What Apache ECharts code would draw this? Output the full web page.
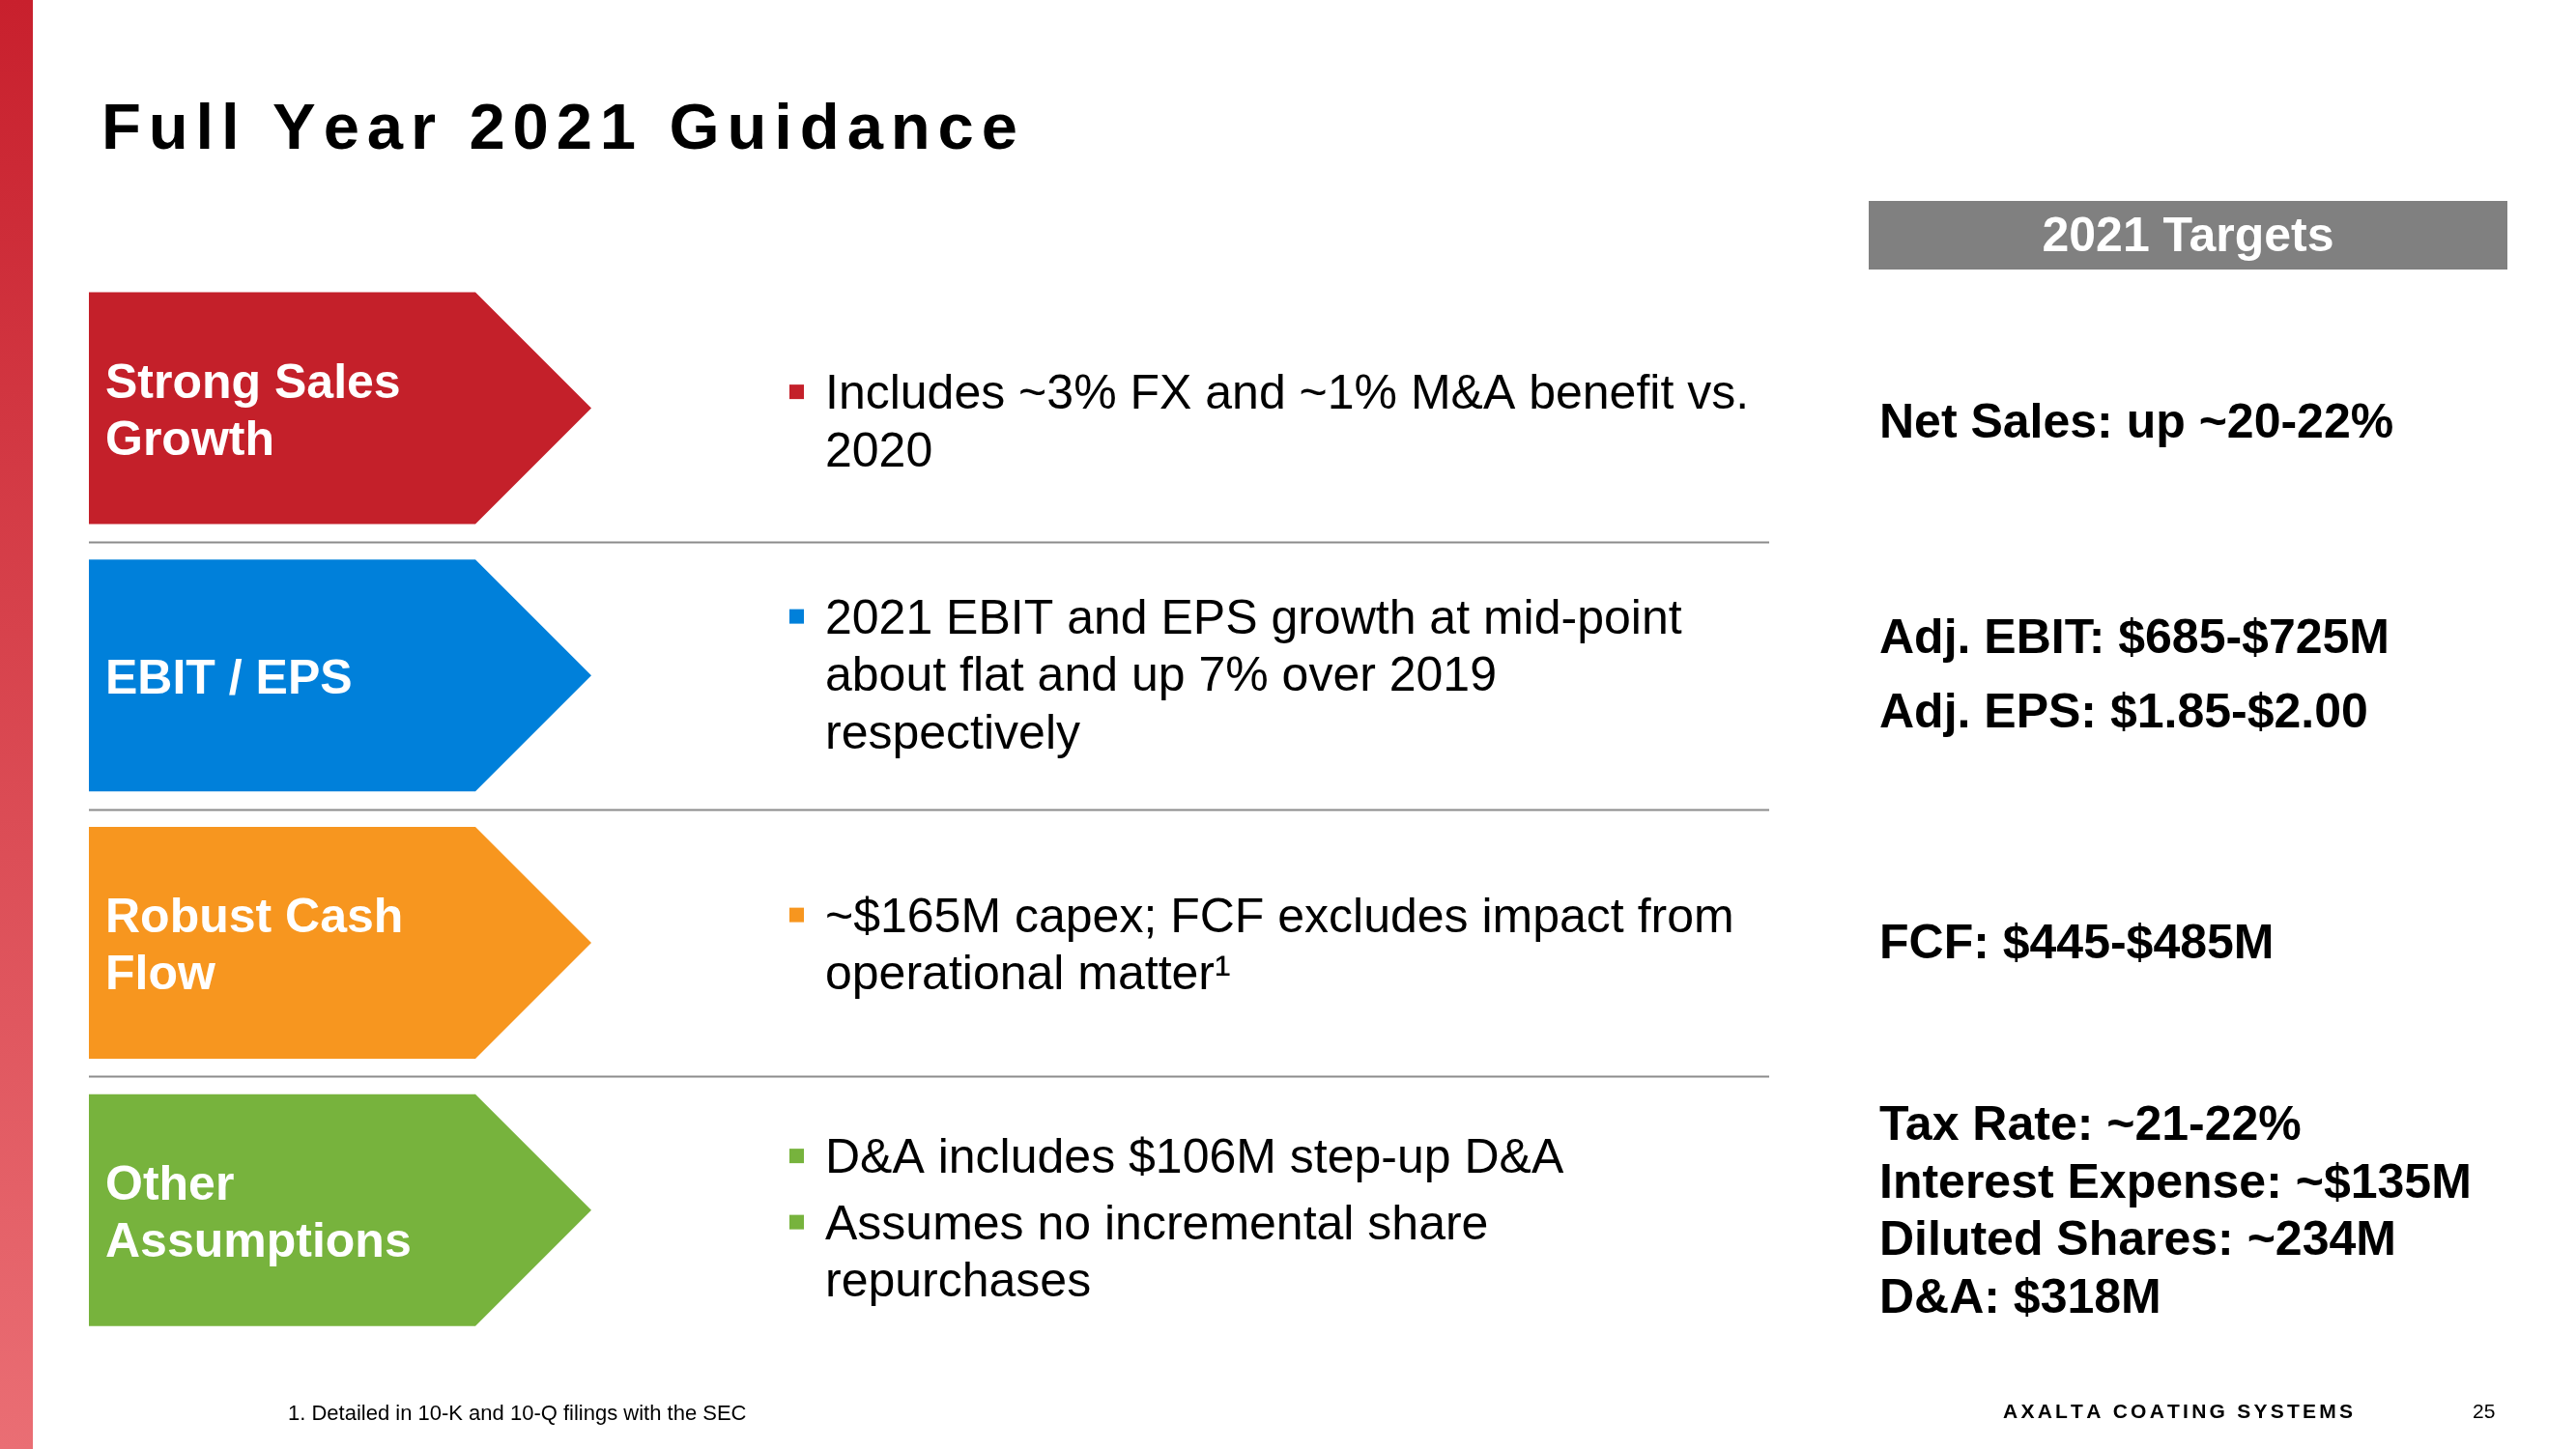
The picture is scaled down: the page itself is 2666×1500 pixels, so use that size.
<!DOCTYPE html>
<html>
<head>
<meta charset="utf-8">
<script src="https://cdn.jsdelivr.net/npm/echarts@6/dist/echarts.min.js"></script>
<style>
html,body{margin:0;padding:0;background:#fff;}
#chart{width:2666px;height:1500px;}
</style>
</head>
<body>
<div id="chart"></div>
<script>
// ---------- content ----------
const titleText = 'Full Year 2021 Guidance';
const categories = ['Strong Sales\nGrowth', 'EBIT / EPS', 'Robust Cash\nFlow', 'Other\nAssumptions'];
const categoryColors = ['#C4202A', '#0080DA', '#F7961F', '#77B33D'];
const bullets = [
  ['Includes ~3% FX and ~1% M&A benefit vs.\n2020'],
  ['2021 EBIT and EPS growth at mid-point\nabout flat and up 7% over 2019\nrespectively'],
  ['~$165M capex; FCF excludes impact from\noperational matter\u00B9'],
  ['D&A includes $106M step-up D&A', 'Assumes no incremental share\nrepurchases']
];
const targetsHeader = '2021 Targets';
const targets = [
  ['Net Sales: up ~20-22%'],
  ['Adj. EBIT: $685-$725M', 'Adj. EPS: $1.85-$2.00'],
  ['FCF: $445-$485M'],
  ['Tax Rate: ~21-22%\nInterest Expense: ~$135M\nDiluted Shares: ~234M\nD&A: $318M']
];
const footnote = '1. Detailed in 10-K and 10-Q filings with the SEC';
const brand = 'AXALTA COATING SYSTEMS';
const pageNumber = '25';

// ---------- layout / style ----------
const W = 2666, H = 1500;
const FONT = '"Liberation Sans", Arial, Helvetica, sans-serif';
const L = {
  gridTop: 284, gridHeight: 1107,
  arrowLeft: 92, arrowShoulder: 492, arrowTip: 612, arrowH: 240,
  labelX: 109, labelSize: 50, labelLH: 59, labelDy: 5,
  sepLeft: 92, sepRight: 1831,
  bulletX: 817, bulletSize: 15, bulletTextX: 854, textSize: 50, textLH: 59.5, textDy: 4,
  bulletGap: 9, bulletShift: [13, -1.5, 1, 8],
  targetX: 1945, targetGap: 17.5, targetShift: [13, -2, -2, -1],
  headerX: 1934, headerY: 208, headerW: 661, headerH: 71
};

function spacedChars(str, font, x0, yMid, targetWidth, color) {
  const ctx = document.createElement('canvas').getContext('2d');
  ctx.font = font;
  const chars = Array.from(str);
  const widths = chars.map(c => ctx.measureText(c).width);
  const natural = widths.reduce((a, b) => a + b, 0);
  const sp = (targetWidth - natural) / (chars.length - 1);
  let x = x0;
  const els = [];
  chars.forEach((c, k) => {
    if (c !== ' ') {
      els.push({ type: 'text', x: x, y: yMid, style: { text: c, font: font, fill: color, textVerticalAlign: 'middle', textAlign: 'left' } });
    }
    x += widths[k] + sp;
  });
  return els;
}

function paragraphLines(paras, gap, lh) {
  const items = [];
  let y = 0;
  paras.forEach((p, pi) => {
    if (pi > 0) y += gap;
    p.split('\n').forEach((t, li) => {
      items.push({ text: t, y: y, first: li === 0 });
      y += lh;
    });
  });
  const total = y - lh;
  items.forEach(it => it.y -= total / 2);
  return items;
}

const chart = echarts.init(document.getElementById('chart'), null, { renderer: 'canvas', width: W, height: H });

const graphics = [];
graphics.push({
  type: 'rect', shape: { x: 0, y: 0, width: 34, height: H },
  style: { fill: new echarts.graphic.LinearGradient(0, 0, 0, 1, [
    { offset: 0, color: '#C8202D' }, { offset: 1, color: '#EA6E74' }]) }
});
spacedChars(titleText, 'bold 67px ' + FONT, 105, 135.5, 948, '#000').forEach(e => graphics.push(e));
graphics.push({ type: 'rect', shape: { x: L.headerX, y: L.headerY, width: L.headerW, height: L.headerH }, style: { fill: '#808080' } });
graphics.push({ type: 'text', x: L.headerX + L.headerW / 2, y: L.headerY + L.headerH / 2 + 3,
  style: { text: targetsHeader, font: 'bold 50px ' + FONT, fill: '#fff', textAlign: 'center', textVerticalAlign: 'middle' } });
graphics.push({ type: 'text', x: 298, y: 1464, style: { text: footnote, font: '22px ' + FONT, fill: '#000', textVerticalAlign: 'middle' } });
spacedChars(brand, 'bold 21px ' + FONT, 2073, 1462.5, 362, '#000').forEach(e => graphics.push(e));
graphics.push({ type: 'text', x: 2559, y: 1462.5, style: { text: pageNumber, font: '21px ' + FONT, fill: '#000', textVerticalAlign: 'middle' } });

function renderRow(params, api) {
  const i = api.value(1);
  const cy = api.coord([0, i])[1];
  const band = api.size([0, 1])[1];
  const X = v => api.coord([v, i])[0];
  const hh = L.arrowH / 2;
  const col = categoryColors[i];
  const children = [];
  children.push({
    type: 'polygon',
    shape: { points: [[X(L.arrowLeft), cy - hh], [X(L.arrowShoulder), cy - hh], [X(L.arrowTip), cy], [X(L.arrowShoulder), cy + hh], [X(L.arrowLeft), cy + hh]] },
    style: { fill: col }
  });
  children.push({
    type: 'text', x: X(L.labelX), y: cy + L.labelDy,
    style: { text: categories[i], font: 'bold ' + L.labelSize + 'px ' + FONT, fill: '#fff', lineHeight: L.labelLH, textVerticalAlign: 'middle', textAlign: 'left' }
  });
  paragraphLines(bullets[i], L.bulletGap, L.textLH).forEach(it => {
    const y = cy + L.bulletShift[i] + it.y;
    if (it.first) {
      children.push({ type: 'rect', shape: { x: X(L.bulletX), y: y - L.bulletSize / 2, width: L.bulletSize, height: L.bulletSize }, style: { fill: col } });
    }
    children.push({ type: 'text', x: X(L.bulletTextX), y: y + L.textDy,
      style: { text: it.text, font: L.textSize + 'px ' + FONT, fill: '#000', textVerticalAlign: 'middle' } });
  });
  paragraphLines(targets[i], L.targetGap, L.textLH).forEach(it => {
    children.push({ type: 'text', x: X(L.targetX), y: cy + L.targetShift[i] + it.y + L.textDy,
      style: { text: it.text, font: 'bold ' + L.textSize + 'px ' + FONT, fill: '#000', textVerticalAlign: 'middle' } });
  });
  if (i < categories.length - 1) {
    const sy = Math.round(cy + band / 2) + 0.5;
    children.push({ type: 'line', shape: { x1: X(L.sepLeft), y1: sy, x2: X(L.sepRight), y2: sy }, style: { stroke: '#8C8C8C', lineWidth: 2 } });
  }
  return { type: 'group', children: children };
}

chart.setOption({
  animation: false,
  backgroundColor: '#ffffff',
  grid: { left: 0, right: 0, top: L.gridTop, height: L.gridHeight },
  xAxis: { type: 'value', min: 0, max: W, show: false },
  yAxis: { type: 'category', data: categories, inverse: true, show: false },
  graphic: graphics,
  series: [{
    type: 'custom',
    clip: false,
    encode: { x: 0, y: 1 },
    data: categories.map((c, i) => [0, i]),
    renderItem: renderRow
  }]
});
</script>
</body>
</html>
